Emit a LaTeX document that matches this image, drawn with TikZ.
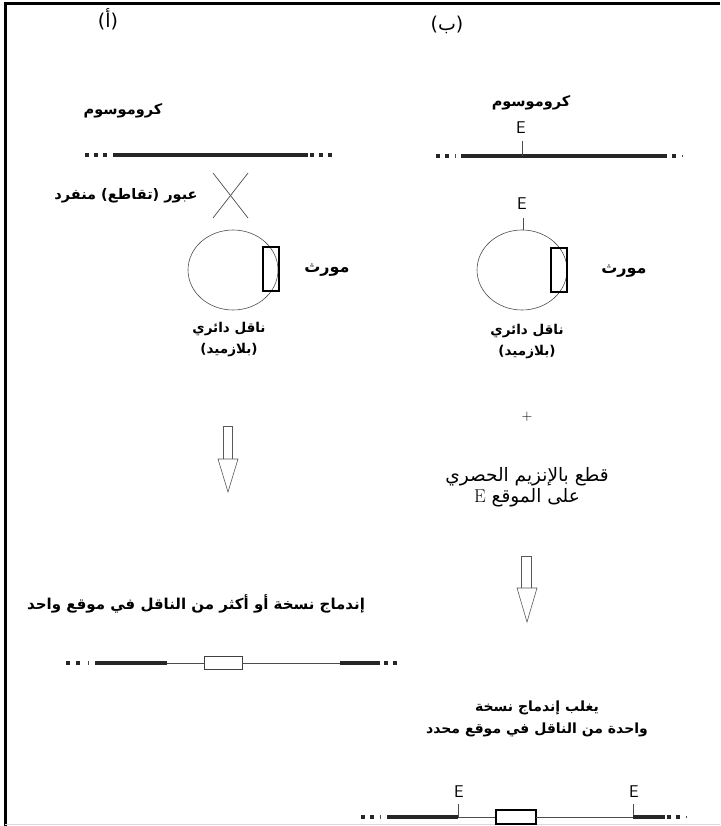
\documentclass[tikz,border=0pt]{standalone}
\usepackage{fontspec}
\TeXXeTstate=1
\newfontfamily\arabicfont[Script=Arabic]{DejaVu Sans}
\newcommand{\artxt}[1]{{\arabicfont\beginR #1\endR}}
\begin{document}
\begin{tikzpicture}[x=1pt,y=-1pt,
  lbl/.style={inner sep=0pt, font=\fontsize{15}{20}\bfseries, align=center},
  small/.style={inner sep=0pt, font=\fontsize{13.5}{21}\bfseries, align=center},
  lblreg/.style={inner sep=0pt, font=\fontsize{18.5}{21}\selectfont, align=center},
  head/.style={inner sep=0pt, font=\fontsize{19}{21}\selectfont},
  elab/.style={inner sep=0pt, font=\fontsize{17}{17}\sffamily},
  bar/.style={line width=4.5pt, black!85},
  thinline/.style={line width=0.7pt, black!70},
  tick/.style={line width=0.7pt, black!70},
  frameline/.style={line width=3pt, black},
  plasmid/.style={line width=0.6pt, black!70},
  genebox/.style={line width=1.8pt, black},
  hollow/.style={line width=0.6pt, black!65, fill=white},
  sq/.style={fill=black!85}]
\useasboundingbox (0,0) rectangle (720,826);
% frame
\draw[frameline] (5,826) -- (5,4) -- (720,4);
\draw[line width=0.5pt, black!15] (5,824) -- (720,824);

% headings
\node[head] (ha) at (108,19) {\artxt{(أ)}};
\node[head] (hb) at (447,25) {\artxt{(ب)}};

% ---------- left column ----------
\node[lbl, font=\fontsize{14.5}{20}\bfseries] (chrA) at (123,111) {\artxt{كروموسوم}};
\foreach \x in {87,96,105} \fill[sq] (\x-2,153) rectangle (\x+2,157);
\draw[bar] (113,155) -- (308,155);
\foreach \x in {312,321,330} \fill[sq] (\x-2,153) rectangle (\x+2,157);

\coordinate (xa) at (213,173); \coordinate (xb) at (248,218);
\coordinate (xc) at (248,173); \coordinate (xd) at (213,218);
\draw[thinline] (xa) -- (xb); \draw[thinline] (xc) -- (xd);
\node[lbl, font=\fontsize{14.5}{20}\bfseries] (cross) at (126,196) {\artxt{عبور (تقاطع) منفرد}};

\draw[plasmid] (233,270) ellipse [x radius=45pt, y radius=40pt];
\draw[genebox] (263,247) rectangle (279,291);
\node[lbl, font=\fontsize{16}{20}\bfseries] (geneA) at (327,270) {\artxt{مورث}};
\node[small] (vecA) at (229,340) {\artxt{ناقل دائري}\\\artxt{(بلازميد)}};

% arrow left
\draw[hollow] (223,426) rectangle (232,459);
\draw[hollow] (218,459) -- (238,459) -- (228,492) -- cycle;

\node[lbl] (resA) at (196,604) {\artxt{إندماج نسخة أو أكثر من الناقل في موقع واحد}};

\foreach \x in {68,78} \fill[sq] (\x-2,661) rectangle (\x+2,665);
\draw[line width=0.8pt, black!70] (88,661) -- (88,665);
\draw[bar] (95,663) -- (167,663);
\draw[thinline] (167,663) -- (204,663);
\draw[line width=0.8pt, black!75] (204,656) rectangle (242,669);
\draw[thinline] (242,663) -- (340,663);
\draw[bar] (340,663) -- (380,663);
\foreach \x in {386,395} \fill[sq] (\x-2,661) rectangle (\x+2,665);

% ---------- right column ----------
\node[lbl, font=\fontsize{14.5}{20}\bfseries] (chrB) at (531,103) {\artxt{كروموسوم}};
\node[elab] (e1) at (521,128) {E};
\foreach \x in {438,447} \fill[sq] (\x-2,154) rectangle (\x+2,158);
\draw[line width=0.8pt, black!70] (455,154) -- (455,158);
\draw[bar] (461,156) -- (667,156);
\fill[sq] (672,154) rectangle (676,158);
\draw[line width=0.8pt, black!70] (682,155) -- (682,157);
\draw[tick] (522,141) -- (522,156);

\node[elab] (e2) at (522,204) {E};
\draw[tick] (523,218) -- (523,230);
\draw[plasmid] (522,270) ellipse [x radius=45pt, y radius=40pt];
\draw[genebox] (551,248) rectangle (567,292);
\node[lbl, font=\fontsize{16}{20}\bfseries] (geneB) at (624,271) {\artxt{مورث}};
\node[small] (vecB) at (527,342) {\artxt{ناقل دائري}\\\artxt{(بلازميد)}};

\node[inner sep=0pt, font=\fontsize{15}{15}\selectfont] (plus) at (527,417) {+};
\node[lblreg] (cut) at (527,487) {\artxt{قطع بالإنزيم الحصري}\\\artxt{على الموقع {\rmfamily E}}};

% arrow right
\draw[hollow] (521,556) rectangle (531,588);
\draw[hollow] (517,588) -- (537,588) -- (527,622) -- cycle;

\node[lbl, font=\fontsize{14}{22}\bfseries] (resB) at (537,719) {\artxt{يغلب إندماج نسخة}\\\artxt{واحدة من الناقل في موقع محدد}};

\node[elab] (e3) at (459,792) {E};
\node[elab] (e4) at (634,792) {E};
\foreach \x in {363,372} \fill[sq] (\x-2,815) rectangle (\x+2,819);
\draw[line width=0.8pt, black!70] (380,815) -- (380,819);
\draw[bar] (387,817) -- (458,817);
\draw[tick] (458,804) -- (458,817);
\draw[thinline] (458,817) -- (496,817);
\draw[genebox, line width=1.5pt] (496,810) rectangle (536,824);
\draw[thinline] (536,817) -- (633,817);
\draw[tick] (633,804) -- (633,817);
\draw[bar] (633,817) -- (665,817);
\foreach \x in {669,678} \fill[sq] (\x-2,815) rectangle (\x+2,819);
\draw[line width=0.8pt, black!70] (686,816) -- (686,818);
\end{tikzpicture}
\end{document}
